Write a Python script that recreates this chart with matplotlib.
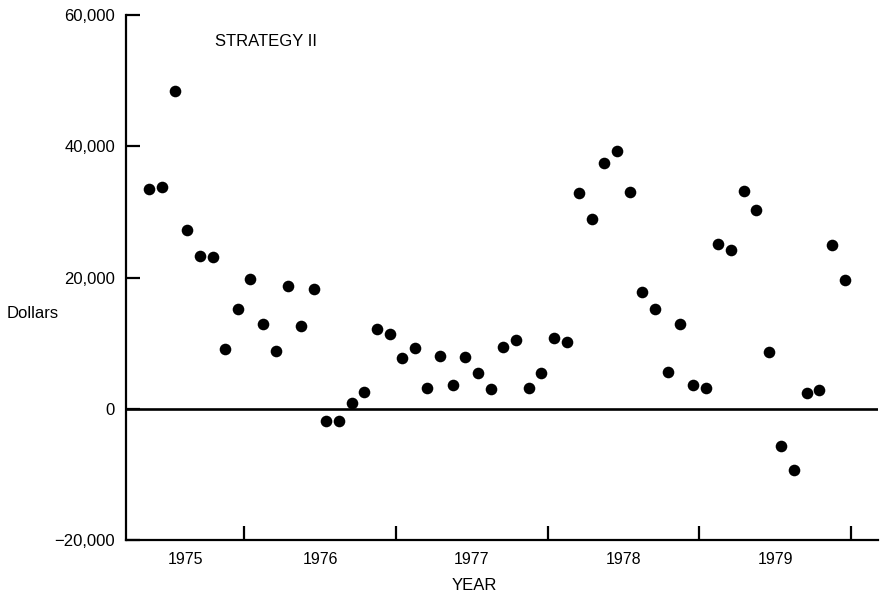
import matplotlib
matplotlib.use('Agg')
import matplotlib.pyplot as plt
import numpy as np

plt.rcParams['font.family'] = ['Liberation Sans', 'DejaVu Sans']

# Monthly results, May 1975 - Dec 1979 (dollars)
start_year = 1975
start_month = 5
dollars = [33500, 33800, 48400, 27200, 23300, 23100, 9100, 15200,
           19800, 12900, 8800, 18700, 12600, 18200, -1900, -1900,
           900, 2600, 12200, 11400, 7700, 9300, 3200, 8000,
           3600, 7900, 5400, 3000, 9400, 10500, 3200, 5400,
           10800, 10200, 32900, 28900, 37400, 39300, 33000, 17800,
           15200, 5600, 12900, 3600, 3200, 25100, 24200, 33200,
           30300, 8600, -5700, -9300, 2400, 2900, 25000, 19600]
years = [1975, 1976, 1977, 1978, 1979]
y_ticks = [-20000, 0, 20000, 40000, 60000]
y_labels = ['\u221220,000', '0', '20,000', '40,000', '60,000']

# month centres as decimal years
months = np.arange(len(dollars)) + (start_month - 1)
t = start_year + (months + 0.5) / 12

fig = plt.figure(figsize=(8.84, 5.93), dpi=100)
ax = fig.add_axes([126 / 884, 1 - 540 / 593, (878 - 126) / 884, 525 / 593])

ax.scatter(t, dollars, s=70, color='black', zorder=3, linewidths=0)
ax.axhline(0, color='black', lw=1.9)

ax.set_xlim(1975.221, 1980.178)
ax.set_ylim(-20000, 60000)

for side in ['top', 'right']:
    ax.spines[side].set_visible(False)
ax.spines['left'].set_linewidth(1.6)
ax.spines['bottom'].set_linewidth(1.6)

ax.set_yticks(y_ticks)
ax.set_yticklabels(y_labels)
ax.tick_params(axis='y', direction='in', length=10, width=1.6, pad=8, labelsize=12)

# year boundaries get ticks, labels sit in the middle of each (visible) year
xmin, xmax = ax.get_xlim()
ax.set_xticks(years[1:] + [years[-1] + 1])
ax.set_xticklabels([])
ax.tick_params(axis='x', which='major', direction='in', length=10, width=1.6)
label_pos = [(max(y, xmin) + min(y + 1, xmax)) / 2 for y in years]
ax.set_xticks(label_pos, minor=True)
ax.set_xticklabels([str(y) for y in years], minor=True)
ax.tick_params(axis='x', which='minor', length=0, pad=9, labelsize=11.5)

fig.text(215 / 884, 1 - 42 / 593, 'STRATEGY II', fontsize=12, ha='left', va='center')
fig.text(7 / 884, 1 - 313 / 593, 'Dollars', fontsize=12, ha='left', va='center')
fig.text(474 / 884, 1 - 585 / 593, 'YEAR', fontsize=12, ha='center', va='center')

fig.savefig('out.png', dpi=100)
